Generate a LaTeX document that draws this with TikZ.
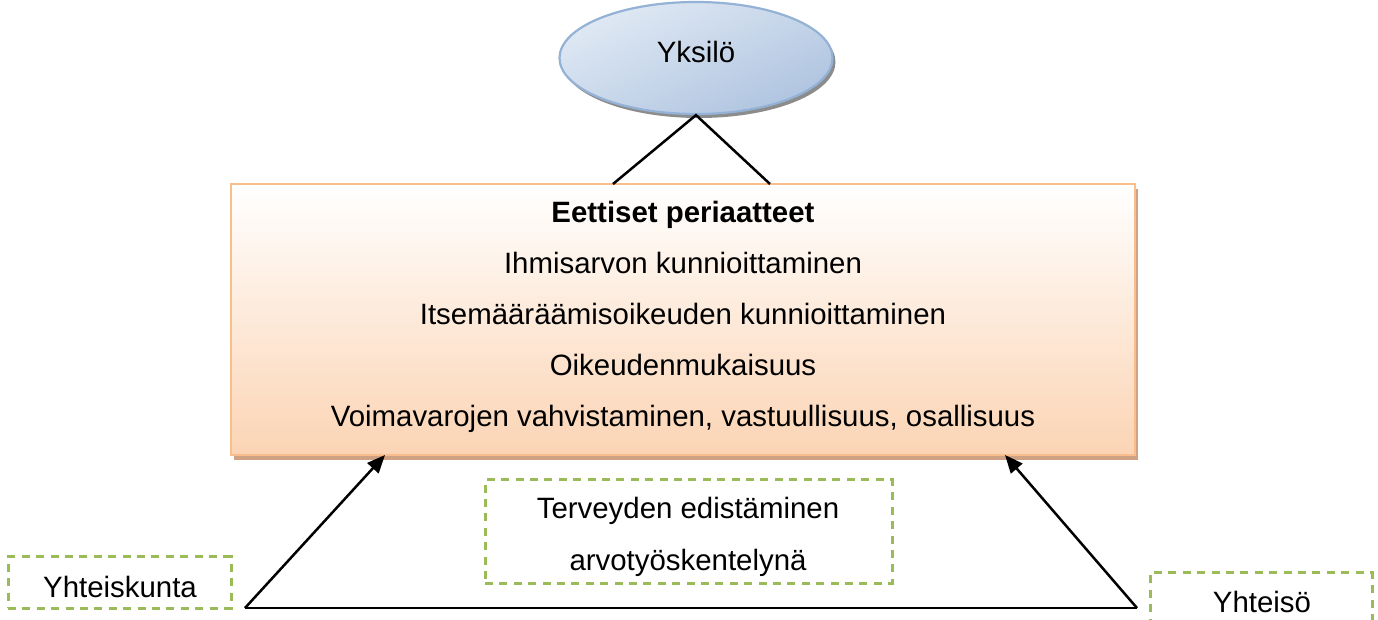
\documentclass[tikz,border=0pt]{standalone}
\usepackage{fontspec}
\setmainfont{Liberation Sans}
\usetikzlibrary{shapes.geometric,arrows.meta,shadows}
\definecolor{peach}{HTML}{FBD4B4}
\definecolor{peachline}{HTML}{F9BE8C}
\definecolor{tanshadow}{HTML}{CFA283}
\definecolor{bluelight}{HTML}{E0E9F4}
\definecolor{bluedark}{HTML}{AFC4E0}
\definecolor{blueline}{HTML}{94B2D6}
\definecolor{grn}{HTML}{9BBB59}
\begin{document}
\begin{tikzpicture}[x=0.5pt,y=-0.5pt,
  font=\fontsize{14.7pt}{17pt}\selectfont,
  txt/.style={inner sep=0pt, anchor=base},
  dashbox/.style={draw=grn, line width=1.5pt, dash pattern=on 4pt off 3.2pt, inner sep=0pt},
  conn/.style={line width=1.25pt, draw=black},
  arr/.style={conn, -{Triangle[length=9pt,width=7.5pt]}}]
\useasboundingbox[fill=white] (0,0) rectangle (1378,620);
\begin{scope}
\clip (0,0) rectangle (1378,620);
% individual
\node[ellipse, minimum width=136.5pt, minimum height=56pt, draw=blueline, line width=1.1pt,
  top color=bluelight, bottom color=bluedark, shading angle=25,
  drop shadow={shadow xshift=1.5pt, shadow yshift=-2pt, fill=black, opacity=0.45}]
  (yk) at (696,58) {};
\node[txt] (yktxt) at (696,63) {Yksilö};
% main box
\node[rectangle, minimum width=452pt, minimum height=135.5pt, draw=peachline, line width=1.1pt,
  top color=white, middle color=peach!55, bottom color=peach,
  drop shadow={shadow xshift=1.5pt, shadow yshift=-2.5pt, fill=tanshadow, opacity=1}]
  (main) at (683,319.5) {};
\node[txt, font=\fontsize{14.7pt}{17pt}\selectfont\bfseries] (t1) at (683,223) {Eettiset periaatteet};
\node[txt] (t2) at (683,274) {Ihmisarvon kunnioittaminen};
\node[txt] (t3) at (683,325) {Itsemääräämisoikeuden kunnioittaminen};
\node[txt] (t4) at (683,376) {Oikeudenmukaisuus};
\node[txt] (t5) at (683,427) {Voimavarojen vahvistaminen, vastuullisuus, osallisuus};
% dashed boxes
\node[dashbox, minimum width=203.5pt, minimum height=51.5pt] (ter) at (688.5,531.5) {};
\node[txt] (ter1) at (688,519) {Terveyden edistäminen};
\node[txt] (ter2) at (688,570) {arvotyöskentelynä};
\node[dashbox, minimum width=111.5pt, minimum height=25.5pt] (yks) at (119.5,582.5) {};
\node[txt] (ykstxt) at (120,597) {Yhteiskunta};
\node[dashbox, minimum width=111pt, minimum height=36pt] (yht) at (1261,609) {};
\node[txt] (yhttxt) at (1262,612) {Yhteisö};
% connectors
\coordinate (m1) at (613,184);
\coordinate (m2) at (770,184);
\coordinate (a1) at (385,455);
\coordinate (a2) at (1005,455);
\coordinate (pl) at (245,608);
\coordinate (pr) at (1137,608);
\draw[conn] (m1) -- (yk.south) -- (m2);
\draw[conn] (pl) -- (pr);
\draw[arr] (pl) -- (a1);
\draw[arr] (pr) -- (a2);
\end{scope}
\end{tikzpicture}
\end{document}
